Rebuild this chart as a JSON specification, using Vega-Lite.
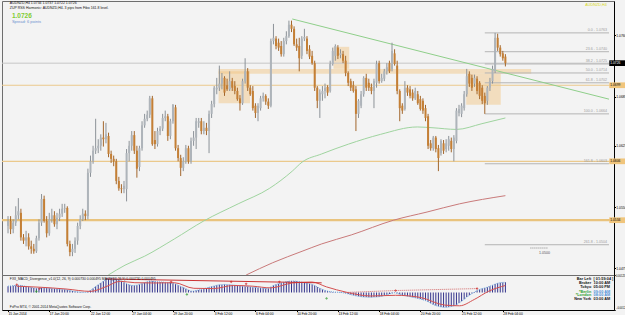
{
"$schema":"https://vega.github.io/schema/vega-lite/v6.json",
"background":"#f3f3f3",
"padding":0,
"spacing":0,
"bounds":"flush",
"config":{"view":{"stroke":"#6e6e6e","strokeWidth":1},"font":"Liberation Sans","axis":{"labelFont":"Liberation Sans","labelColor":"#000","tickColor":"#000","domainColor":"#000","grid":false,"title":null}},
"datasets":{
"bars":[
{"i":0,"o":1.0527,"h":1.0539,"l":1.0518,"c":1.0533,"m":0.00045},
{"i":1,"o":1.0533,"h":1.0539,"l":1.0517,"c":1.0523,"m":0.00047},
{"i":2,"o":1.0523,"h":1.0535,"l":1.0518,"c":1.0531,"m":0.00048},
{"i":3,"o":1.0531,"h":1.0551,"l":1.0527,"c":1.0540,"m":0.0005},
{"i":4,"o":1.0540,"h":1.0561,"l":1.0535,"c":1.0545,"m":0.00052},
{"i":5,"o":1.0543,"h":1.0548,"l":1.0509,"c":1.0513,"m":0.0005},
{"i":6,"o":1.0513,"h":1.0517,"l":1.0505,"c":1.0509,"m":0.00047},
{"i":7,"o":1.0509,"h":1.0521,"l":1.0502,"c":1.0513,"m":0.00044},
{"i":8,"o":1.0513,"h":1.0518,"l":1.0498,"c":1.0502,"m":0.0004},
{"i":9,"o":1.0502,"h":1.0509,"l":1.0493,"c":1.0499,"m":0.00036},
{"i":10,"o":1.0499,"h":1.0505,"l":1.0493,"c":1.0496,"m":0.00032},
{"i":11,"o":1.0496,"h":1.0515,"l":1.0494,"c":1.0512,"m":0.0003},
{"i":12,"o":1.0512,"h":1.0535,"l":1.0509,"c":1.0531,"m":0.0003},
{"i":13,"o":1.0531,"h":1.0566,"l":1.0527,"c":1.0560,"m":0.00033},
{"i":14,"o":1.0560,"h":1.0564,"l":1.0531,"c":1.0533,"m":0.00033},
{"i":15,"o":1.0533,"h":1.0539,"l":1.0513,"c":1.0518,"m":0.00032},
{"i":16,"o":1.0518,"h":1.0543,"l":1.0515,"c":1.0535,"m":0.0003},
{"i":17,"o":1.0535,"h":1.0548,"l":1.0531,"c":1.0540,"m":0.00028},
{"i":18,"o":1.0540,"h":1.0545,"l":1.0526,"c":1.0529,"m":0.00027},
{"i":19,"o":1.0529,"h":1.0543,"l":1.0523,"c":1.0537,"m":0.00025},
{"i":20,"o":1.0537,"h":1.0548,"l":1.0533,"c":1.0542,"m":0.00024},
{"i":21,"o":1.0542,"h":1.0554,"l":1.0538,"c":1.0548,"m":0.00022},
{"i":22,"o":1.0548,"h":1.0554,"l":1.0543,"c":1.0549,"m":0.00021},
{"i":23,"o":1.0549,"h":1.0551,"l":1.0502,"c":1.0505,"m":0.00018},
{"i":24,"o":1.0505,"h":1.0509,"l":1.0490,"c":1.0495,"m":0.00014},
{"i":25,"o":1.0495,"h":1.0505,"l":1.0490,"c":1.0499,"m":0.0001},
{"i":26,"o":1.0499,"h":1.0513,"l":1.0494,"c":1.0509,"m":0.00007},
{"i":27,"o":1.0509,"h":1.0531,"l":1.0504,"c":1.0527,"m":0.00005},
{"i":28,"o":1.0527,"h":1.0540,"l":1.0523,"c":1.0535,"m":0.00003},
{"i":29,"o":1.0535,"h":1.0548,"l":1.0533,"c":1.0542,"m":0.00002},
{"i":30,"o":1.0542,"h":1.0546,"l":1.0534,"c":1.0539,"m":0},
{"i":31,"o":1.0539,"h":1.0597,"l":1.0535,"c":1.0592,"m":0.00005},
{"i":32,"o":1.0592,"h":1.0613,"l":1.0587,"c":1.0606,"m":0.00015},
{"i":33,"o":1.0606,"h":1.0625,"l":1.0603,"c":1.0619,"m":0.00028},
{"i":34,"o":1.0619,"h":1.0658,"l":1.0615,"c":1.0622,"m":0.00042},
{"i":35,"o":1.0622,"h":1.0633,"l":1.0616,"c":1.0625,"m":0.00055},
{"i":36,"o":1.0625,"h":1.0639,"l":1.0619,"c":1.0635,"m":0.00068},
{"i":37,"o":1.0635,"h":1.0655,"l":1.0624,"c":1.0633,"m":0.0008},
{"i":38,"o":1.0633,"h":1.0653,"l":1.0628,"c":1.0639,"m":0.00092},
{"i":39,"o":1.0637,"h":1.0641,"l":1.0611,"c":1.0615,"m":0.001},
{"i":40,"o":1.0615,"h":1.0619,"l":1.0604,"c":1.0609,"m":0.00104},
{"i":41,"o":1.0609,"h":1.0613,"l":1.0600,"c":1.0606,"m":0.00102},
{"i":42,"o":1.0606,"h":1.0609,"l":1.0578,"c":1.0582,"m":0.00097},
{"i":43,"o":1.0582,"h":1.0587,"l":1.0570,"c":1.0573,"m":0.0009},
{"i":44,"o":1.0573,"h":1.0578,"l":1.0567,"c":1.0572,"m":0.00082},
{"i":45,"o":1.0572,"h":1.0582,"l":1.0567,"c":1.0576,"m":0.00072},
{"i":46,"o":1.0572,"h":1.0621,"l":1.0557,"c":1.0616,"m":0.00062},
{"i":47,"o":1.0616,"h":1.0631,"l":1.0606,"c":1.0625,"m":0.00055},
{"i":48,"o":1.0625,"h":1.0643,"l":1.0619,"c":1.0638,"m":0.0005},
{"i":49,"o":1.0638,"h":1.0643,"l":1.0615,"c":1.0619,"m":0.0005},
{"i":50,"o":1.0619,"h":1.0625,"l":1.0586,"c":1.0597,"m":0.00052},
{"i":51,"o":1.0599,"h":1.0625,"l":1.0594,"c":1.0622,"m":0.00058},
{"i":52,"o":1.0622,"h":1.0655,"l":1.0619,"c":1.0650,"m":0.00064},
{"i":53,"o":1.0650,"h":1.0664,"l":1.0647,"c":1.0658,"m":0.0007},
{"i":54,"o":1.0658,"h":1.0668,"l":1.0655,"c":1.0663,"m":0.00076},
{"i":55,"o":1.0663,"h":1.0686,"l":1.0659,"c":1.0683,"m":0.00082},
{"i":56,"o":1.0683,"h":1.0686,"l":1.0625,"c":1.0627,"m":0.0008},
{"i":57,"o":1.0632,"h":1.0643,"l":1.0621,"c":1.0627,"m":0.00078},
{"i":58,"o":1.0627,"h":1.0647,"l":1.0624,"c":1.0643,"m":0.00076},
{"i":59,"o":1.0643,"h":1.0649,"l":1.0638,"c":1.0646,"m":0.00075},
{"i":60,"o":1.0646,"h":1.0664,"l":1.0643,"c":1.0659,"m":0.00074},
{"i":61,"o":1.0659,"h":1.0668,"l":1.0655,"c":1.0661,"m":0.00072},
{"i":62,"o":1.0661,"h":1.0664,"l":1.0631,"c":1.0637,"m":0.0007},
{"i":63,"o":1.0637,"h":1.0658,"l":1.0633,"c":1.0655,"m":0.00068},
{"i":64,"o":1.0655,"h":1.0676,"l":1.0652,"c":1.0675,"m":0.00066},
{"i":65,"o":1.0672,"h":1.0675,"l":1.0619,"c":1.0622,"m":0.0006},
{"i":66,"o":1.0622,"h":1.0626,"l":1.0606,"c":1.0610,"m":0.00052},
{"i":67,"o":1.0610,"h":1.0614,"l":1.0588,"c":1.0598,"m":0.00043},
{"i":68,"o":1.0598,"h":1.0611,"l":1.0594,"c":1.0606,"m":0.00035},
{"i":69,"o":1.0606,"h":1.0626,"l":1.0603,"c":1.0622,"m":0.00027},
{"i":70,"o":1.0622,"h":1.0625,"l":1.0603,"c":1.0606,"m":0.00018},
{"i":71,"o":1.0606,"h":1.0635,"l":1.0603,"c":1.0631,"m":0.0001},
{"i":72,"o":1.0631,"h":1.0643,"l":1.0625,"c":1.0635,"m":0.0001},
{"i":73,"o":1.0635,"h":1.0659,"l":1.0621,"c":1.0655,"m":0.00014},
{"i":74,"o":1.0653,"h":1.0659,"l":1.0647,"c":1.0655,"m":0.00018},
{"i":75,"o":1.0655,"h":1.0659,"l":1.0639,"c":1.0643,"m":0.00022},
{"i":76,"o":1.0643,"h":1.0655,"l":1.0639,"c":1.0647,"m":0.00027},
{"i":77,"o":1.0647,"h":1.0653,"l":1.0638,"c":1.0643,"m":0.00032},
{"i":78,"o":1.0643,"h":1.0668,"l":1.0616,"c":1.0664,"m":0.00037},
{"i":79,"o":1.0664,"h":1.0680,"l":1.0659,"c":1.0676,"m":0.00042},
{"i":80,"o":1.0676,"h":1.0698,"l":1.0672,"c":1.0696,"m":0.00047},
{"i":81,"o":1.0694,"h":1.0708,"l":1.0688,"c":1.0696,"m":0.00052},
{"i":82,"o":1.0696,"h":1.0723,"l":1.0692,"c":1.0701,"m":0.00055},
{"i":83,"o":1.0701,"h":1.0714,"l":1.0694,"c":1.0708,"m":0.00056},
{"i":84,"o":1.0708,"h":1.0710,"l":1.0686,"c":1.0690,"m":0.00058},
{"i":85,"o":1.0699,"h":1.0707,"l":1.0692,"c":1.0694,"m":0.00056},
{"i":86,"o":1.0694,"h":1.0716,"l":1.0692,"c":1.0704,"m":0.00055},
{"i":87,"o":1.0704,"h":1.0708,"l":1.0692,"c":1.0696,"m":0.00054},
{"i":88,"o":1.0698,"h":1.0704,"l":1.0688,"c":1.0692,"m":0.00052},
{"i":89,"o":1.0692,"h":1.0696,"l":1.0680,"c":1.0682,"m":0.0005},
{"i":90,"o":1.0683,"h":1.0687,"l":1.0668,"c":1.0677,"m":0.00047},
{"i":91,"o":1.0677,"h":1.0707,"l":1.0675,"c":1.0704,"m":0.00045},
{"i":92,"o":1.0704,"h":1.0732,"l":1.0701,"c":1.0716,"m":0.00043},
{"i":93,"o":1.0716,"h":1.0720,"l":1.0692,"c":1.0696,"m":0.00042},
{"i":94,"o":1.0696,"h":1.0699,"l":1.0686,"c":1.0688,"m":0.0004},
{"i":95,"o":1.0692,"h":1.0698,"l":1.0668,"c":1.0671,"m":0.00038},
{"i":96,"o":1.0674,"h":1.0677,"l":1.0659,"c":1.0665,"m":0.00036},
{"i":97,"o":1.0665,"h":1.0677,"l":1.0655,"c":1.0674,"m":0.00034},
{"i":98,"o":1.0671,"h":1.0686,"l":1.0668,"c":1.0683,"m":0.00032},
{"i":99,"o":1.0683,"h":1.0690,"l":1.0679,"c":1.0686,"m":0.0003},
{"i":100,"o":1.0686,"h":1.0688,"l":1.0675,"c":1.0679,"m":0.00029},
{"i":101,"o":1.0679,"h":1.0683,"l":1.0670,"c":1.0674,"m":0.00029},
{"i":102,"o":1.0674,"h":1.0756,"l":1.0672,"c":1.0753,"m":0.0004},
{"i":103,"o":1.0753,"h":1.0774,"l":1.0749,"c":1.0757,"m":0.0005},
{"i":104,"o":1.0756,"h":1.0759,"l":1.0743,"c":1.0747,"m":0.00057},
{"i":105,"o":1.0751,"h":1.0756,"l":1.0741,"c":1.0745,"m":0.00063},
{"i":106,"o":1.0747,"h":1.0753,"l":1.0734,"c":1.0737,"m":0.00068},
{"i":107,"o":1.0737,"h":1.0757,"l":1.0734,"c":1.0753,"m":0.00073},
{"i":108,"o":1.0753,"h":1.0765,"l":1.0749,"c":1.0759,"m":0.00077},
{"i":109,"o":1.0759,"h":1.0778,"l":1.0757,"c":1.0773,"m":0.0008},
{"i":110,"o":1.0773,"h":1.0778,"l":1.0764,"c":1.0768,"m":0.00082},
{"i":111,"o":1.0768,"h":1.0771,"l":1.0747,"c":1.0749,"m":0.00082},
{"i":112,"o":1.0749,"h":1.0756,"l":1.0741,"c":1.0745,"m":0.0008},
{"i":113,"o":1.0747,"h":1.0757,"l":1.0716,"c":1.0732,"m":0.00078},
{"i":114,"o":1.0735,"h":1.0759,"l":1.0731,"c":1.0756,"m":0.00074},
{"i":115,"o":1.0756,"h":1.0768,"l":1.0753,"c":1.0758,"m":0.0007},
{"i":116,"o":1.0756,"h":1.0759,"l":1.0737,"c":1.0741,"m":0.00067},
{"i":117,"o":1.0743,"h":1.0748,"l":1.0731,"c":1.0734,"m":0.00063},
{"i":118,"o":1.0735,"h":1.0741,"l":1.0724,"c":1.0726,"m":0.00058},
{"i":119,"o":1.0726,"h":1.0729,"l":1.0692,"c":1.0696,"m":0.0005},
{"i":120,"o":1.0696,"h":1.0698,"l":1.0671,"c":1.0680,"m":0.0004},
{"i":121,"o":1.0680,"h":1.0694,"l":1.0659,"c":1.0690,"m":0.0003},
{"i":122,"o":1.0688,"h":1.0698,"l":1.0680,"c":1.0692,"m":0.00022},
{"i":123,"o":1.0692,"h":1.0701,"l":1.0683,"c":1.0696,"m":0.00015},
{"i":124,"o":1.0697,"h":1.0699,"l":1.0686,"c":1.0690,"m":0.0001},
{"i":125,"o":1.0692,"h":1.0729,"l":1.0690,"c":1.0725,"m":0.00006},
{"i":126,"o":1.0725,"h":1.0745,"l":1.0723,"c":1.0741,"m":0.00004},
{"i":127,"o":1.0735,"h":1.0749,"l":1.0729,"c":1.0747,"m":0.00003},
{"i":128,"o":1.0745,"h":1.0748,"l":1.0731,"c":1.0735,"m":0.00002},
{"i":129,"o":1.0736,"h":1.0743,"l":1.0732,"c":1.0738,"m":0.00001},
{"i":130,"o":1.0737,"h":1.0741,"l":1.0726,"c":1.0729,"m":-0.00002},
{"i":131,"o":1.0729,"h":1.0735,"l":1.0710,"c":1.0714,"m":-0.00005},
{"i":132,"o":1.0714,"h":1.0716,"l":1.0698,"c":1.0702,"m":-0.0001},
{"i":133,"o":1.0704,"h":1.0707,"l":1.0692,"c":1.0696,"m":-0.00015},
{"i":134,"o":1.0699,"h":1.0704,"l":1.0690,"c":1.0692,"m":-0.0002},
{"i":135,"o":1.0694,"h":1.0698,"l":1.0643,"c":1.0664,"m":-0.00024},
{"i":136,"o":1.0664,"h":1.0682,"l":1.0659,"c":1.0680,"m":-0.00027},
{"i":137,"o":1.0674,"h":1.0692,"l":1.0671,"c":1.0688,"m":-0.0003},
{"i":138,"o":1.0688,"h":1.0710,"l":1.0685,"c":1.0708,"m":-0.00032},
{"i":139,"o":1.0708,"h":1.0713,"l":1.0692,"c":1.0696,"m":-0.00033},
{"i":140,"o":1.0702,"h":1.0707,"l":1.0692,"c":1.0696,"m":-0.00034},
{"i":141,"o":1.0697,"h":1.0701,"l":1.0688,"c":1.0692,"m":-0.00034},
{"i":142,"o":1.0692,"h":1.0707,"l":1.0671,"c":1.0704,"m":-0.00033},
{"i":143,"o":1.0702,"h":1.0729,"l":1.0696,"c":1.0725,"m":-0.00032},
{"i":144,"o":1.0726,"h":1.0729,"l":1.0701,"c":1.0704,"m":-0.0003},
{"i":145,"o":1.0704,"h":1.0713,"l":1.0702,"c":1.0708,"m":-0.00027},
{"i":146,"o":1.0707,"h":1.0719,"l":1.0704,"c":1.0716,"m":-0.00022},
{"i":147,"o":1.0716,"h":1.0726,"l":1.0712,"c":1.0721,"m":-0.00016},
{"i":148,"o":1.0726,"h":1.0729,"l":1.0714,"c":1.0716,"m":-0.0001},
{"i":149,"o":1.0719,"h":1.0751,"l":1.0716,"c":1.0741,"m":-0.00005},
{"i":150,"o":1.0738,"h":1.0743,"l":1.0723,"c":1.0725,"m":-0.00002},
{"i":151,"o":1.0723,"h":1.0729,"l":1.0688,"c":1.0692,"m":-0.00006},
{"i":152,"o":1.0692,"h":1.0694,"l":1.0655,"c":1.0671,"m":-0.00012},
{"i":153,"o":1.0674,"h":1.0677,"l":1.0664,"c":1.0668,"m":-0.00018},
{"i":154,"o":1.0670,"h":1.0704,"l":1.0668,"c":1.0696,"m":-0.00022},
{"i":155,"o":1.0696,"h":1.0699,"l":1.0686,"c":1.0690,"m":-0.00026},
{"i":156,"o":1.0694,"h":1.0698,"l":1.0683,"c":1.0686,"m":-0.0003},
{"i":157,"o":1.0690,"h":1.0694,"l":1.0680,"c":1.0683,"m":-0.00034},
{"i":158,"o":1.0683,"h":1.0696,"l":1.0681,"c":1.0692,"m":-0.00038},
{"i":159,"o":1.0688,"h":1.0692,"l":1.0675,"c":1.0677,"m":-0.00042},
{"i":160,"o":1.0682,"h":1.0686,"l":1.0668,"c":1.0670,"m":-0.00047},
{"i":161,"o":1.0680,"h":1.0683,"l":1.0664,"c":1.0668,"m":-0.00052},
{"i":162,"o":1.0671,"h":1.0675,"l":1.0655,"c":1.0659,"m":-0.00058},
{"i":163,"o":1.0661,"h":1.0664,"l":1.0621,"c":1.0625,"m":-0.00066},
{"i":164,"o":1.0628,"h":1.0632,"l":1.0619,"c":1.0622,"m":-0.00076},
{"i":165,"o":1.0622,"h":1.0637,"l":1.0619,"c":1.0635,"m":-0.00086},
{"i":166,"o":1.0635,"h":1.0637,"l":1.0617,"c":1.0621,"m":-0.00093},
{"i":167,"o":1.0622,"h":1.0626,"l":1.0594,"c":1.0610,"m":-0.00099},
{"i":168,"o":1.0616,"h":1.0633,"l":1.0613,"c":1.0631,"m":-0.00103},
{"i":169,"o":1.0628,"h":1.0632,"l":1.0615,"c":1.0619,"m":-0.00105},
{"i":170,"o":1.0621,"h":1.0633,"l":1.0617,"c":1.0628,"m":-0.00106},
{"i":171,"o":1.0625,"h":1.0637,"l":1.0619,"c":1.0633,"m":-0.00104},
{"i":172,"o":1.0631,"h":1.0635,"l":1.0617,"c":1.0621,"m":-0.001},
{"i":173,"o":1.0621,"h":1.0638,"l":1.0606,"c":1.0635,"m":-0.00096},
{"i":174,"o":1.0631,"h":1.0671,"l":1.0628,"c":1.0668,"m":-0.00088},
{"i":175,"o":1.0665,"h":1.0675,"l":1.0661,"c":1.0670,"m":-0.00075},
{"i":176,"o":1.0664,"h":1.0677,"l":1.0660,"c":1.0674,"m":-0.00062},
{"i":177,"o":1.0671,"h":1.0692,"l":1.0668,"c":1.0688,"m":-0.00048},
{"i":178,"o":1.0688,"h":1.0719,"l":1.0685,"c":1.0710,"m":-0.00033},
{"i":179,"o":1.0713,"h":1.0716,"l":1.0697,"c":1.0701,"m":-0.0002},
{"i":180,"o":1.0708,"h":1.0712,"l":1.0692,"c":1.0696,"m":-0.00008},
{"i":181,"o":1.0701,"h":1.0712,"l":1.0697,"c":1.0708,"m":0.00003},
{"i":182,"o":1.0707,"h":1.0710,"l":1.0688,"c":1.0692,"m":0.00014},
{"i":183,"o":1.0702,"h":1.0704,"l":1.0682,"c":1.0686,"m":0.00022},
{"i":184,"o":1.0696,"h":1.0699,"l":1.0676,"c":1.0680,"m":0.00028},
{"i":185,"o":1.0686,"h":1.0690,"l":1.0664,"c":1.0677,"m":0.00033},
{"i":186,"o":1.0680,"h":1.0698,"l":1.0675,"c":1.0696,"m":0.00038},
{"i":187,"o":1.0696,"h":1.0708,"l":1.0692,"c":1.0704,"m":0.00045},
{"i":188,"o":1.0704,"h":1.0723,"l":1.0701,"c":1.0719,"m":0.00052},
{"i":189,"o":1.0716,"h":1.0763,"l":1.0714,"c":1.0757,"m":0.0006},
{"i":190,"o":1.0757,"h":1.0762,"l":1.0741,"c":1.0745,"m":0.00066},
{"i":191,"o":1.0745,"h":1.0748,"l":1.0734,"c":1.0737,"m":0.0007},
{"i":192,"o":1.0738,"h":1.0741,"l":1.0729,"c":1.0732,"m":0.00072},
{"i":193,"o":1.0734,"h":1.0737,"l":1.0722,"c":1.0726,"m":0.00073}
],
"zones":[
{"i":81.7,"i2":203,"p":1.0719,"p2":1.0713},
{"i":81.7,"i2":93.9,"p":1.0716,"p2":1.0677},
{"i":126.3,"i2":132.4,"p":1.0746,"p2":1.0719},
{"i":177.8,"i2":191.2,"p":1.0713,"p2":1.0675}
],
"hl":[
{"k":"sr","p":1.0699},{"k":"sr","p":1.0606},{"k":"sr2","p":1.0534},{"k":"bid","p":1.0726}
],
"fib":[
{"i":185,"i2":233.2,"p":1.0763,"t":"0.0 - 1.0763"},
{"i":185,"i2":233.2,"p":1.0740,"t":"23.6 - 1.0740"},
{"i":185,"i2":233.2,"p":1.0725,"t":"38.2 - 1.0725"},
{"i":185,"i2":233.2,"p":1.0714,"t":"50.0 - 1.0714"},
{"i":185,"i2":233.2,"p":1.0702,"t":"61.8 - 1.0702"},
{"i":185,"i2":233.2,"p":1.0664,"t":"100.0 - 1.0664"},
{"i":185,"i2":233.2,"p":1.0603,"t":"161.8 - 1.0603"},
{"i":185,"i2":233.2,"p":1.0504,"t":"261.8 - 1.0504"}
],
"lines":[
{"s":"tl","i":110.3,"p":1.0780},{"s":"tl","i":233.2,"p":1.0682},
{"s":"ma1","i":38.9,"p":1.0467},{"s":"ma1","i":45.4,"p":1.0479},{"s":"ma1","i":53.0,"p":1.0490},{"s":"ma1","i":64.5,"p":1.0511},{"s":"ma1","i":75.9,"p":1.0533},{"s":"ma1","i":89.3,"p":1.0554},{"s":"ma1","i":101.5,"p":1.0573},{"s":"ma1","i":110.3,"p":1.0594},{"s":"ma1","i":114.1,"p":1.0605},{"s":"ma1","i":121.7,"p":1.0615},{"s":"ma1","i":132.1,"p":1.0627},{"s":"ma1","i":144.6,"p":1.0639},{"s":"ma1","i":158.8,"p":1.0648},{"s":"ma1","i":164.9,"p":1.0647},{"s":"ma1","i":174.0,"p":1.0645},{"s":"ma1","i":183.9,"p":1.0652},{"s":"ma1","i":193,"p":1.0659},
{"s":"ma2","i":92.4,"p":1.0467},{"s":"ma2","i":102.7,"p":1.0482},{"s":"ma2","i":114.1,"p":1.0496},{"s":"ma2","i":121.7,"p":1.0505},{"s":"ma2","i":133.2,"p":1.0516},{"s":"ma2","i":149.6,"p":1.0534},{"s":"ma2","i":162.6,"p":1.0544},{"s":"ma2","i":175.2,"p":1.0554},{"s":"ma2","i":193,"p":1.0564},
{"s":"lvl","i":202.7,"p":1.0500},{"s":"lvl","i":209.5,"p":1.0500}
],
"tags":[
{"k":"cur","i":233.3,"i2":241,"p":1.0726,"q":1.07295,"r":1.07225,"t":"1.0726"},
{"k":"sr","i":233.3,"i2":241,"p":1.0699,"q":1.07025,"r":1.06955,"t":"1.0699"},
{"k":"sr","i":233.3,"i2":241,"p":1.0606,"q":1.06095,"r":1.06025,"t":"1.0606"},
{"k":"sr","i":233.3,"i2":241,"p":1.0534,"q":1.05375,"r":1.05305,"t":"1.0534"}
],
"sig":[
{"i":3.4,"v":0.00045},{"i":12.2,"v":0.00038},{"i":22.5,"v":0.00025},{"i":32,"v":0.00008},{"i":37.8,"v":0.0004},{"i":43.5,"v":0.0008},{"i":49.2,"v":0.0007},{"i":56.9,"v":0.00068},{"i":64.5,"v":0.0007},{"i":72.1,"v":0.0003},{"i":79.8,"v":0.00028},{"i":87.4,"v":0.0005},{"i":95,"v":0.00045},{"i":101.9,"v":0.00033},{"i":110.3,"v":0.00068},{"i":117.9,"v":0.00075},{"i":123.6,"v":0.0004},{"i":131.3,"v":0.00002},{"i":140.8,"v":-0.00025},{"i":150.4,"v":-0.0002},{"i":159.9,"v":-0.00035},{"i":169.5,"v":-0.0009},{"i":175.2,"v":-0.00095},{"i":180.9,"v":-0.0005},{"i":186.6,"v":0.0001},{"i":193,"v":0.0005}
],
"dv":[
{"s":"a","i":37.8,"v":0.00097},{"s":"a","i":121.7,"v":0.00069},
{"s":"b","i":130.5,"v":0},{"s":"b","i":150.4,"v":0.00014},{"s":"b","i":182,"v":0.00028}
],
"mk":[
{"k":"r","i":3.4,"v":0.00056},{"k":"r","i":12.2,"v":0.00028},{"k":"r","i":63.3,"v":0.00076},{"k":"r","i":86.6,"v":0.00076},{"k":"r","i":92.4,"v":0.00062},{"k":"r","i":105.3,"v":0.00076},{"k":"r","i":150.4,"v":0.00014},{"k":"r","i":182,"v":0.00028},
{"k":"g","i":11,"v":0.00007},{"k":"g","i":69.4,"v":-0.00014},{"k":"g","i":123.6,"v":-0.00042}
],
"info":[
{"k":"n","i":226.3,"v":0.00097,"t":"Bar Left"},{"k":"t","i":227.2,"v":0.00097,"t":"[ 01:59:04 ]"},
{"k":"n","i":226.3,"v":0.00069,"t":"Broker"},{"k":"t","i":227.2,"v":0.00069,"t":"10:00 AM"},
{"k":"n","i":226.3,"v":0.00042,"t":"Tokyo"},{"k":"t","i":227.2,"v":0.00042,"t":"05:00 PM"},
{"k":"ng","i":226.3,"v":0.00007,"t":"*Berlin"},{"k":"tb","i":227.2,"v":0.00007,"t":"09:00 AM"},
{"k":"ng","i":226.3,"v":-0.00021,"t":"*London"},{"k":"tb","i":227.2,"v":-0.00021,"t":"08:00 AM"},
{"k":"n","i":226.3,"v":-0.00049,"t":"New York"},{"k":"t","i":227.2,"v":-0.00049,"t":"03:00 AM"}
],
"texts":[
{"k":"hd","i":0.7,"p":1.0799,"t":"AUDNZD,H4  1.0734 1.0737 1.0722 1.0726"},
{"k":"hd","i":0.7,"p":1.0793,"t":"ZUP RSS Harmonic: AUDNZD,H4. 3 pips from Fibo 161.8 level."},
{"k":"big","i":1.5,"p":1.0784,"t":"1.0726"},
{"k":"sp","i":1.5,"p":1.0776,"t":"Spread: 6 points"},
{"k":"lv","i":206,"p":1.0494,"t":"1.0500"},
{"k":"yel","i":232.4,"p":1.0797,"t":"AUDNZD,H4"}
],
"itexts":[
{"i":0.7,"v":0.00097,"t":"FXII_MACD_Divergence_v1.0(12, 26, 9) 0.000730 0.000495 MACD(12,26,9) 0.000730 0.000495"},
{"i":0.7,"v":-0.00104,"t":"FxPro MT4, © 2001-2014 MetaQuotes Software Corp."}
]
},
"vconcat":[
{
"width":612,"height":274,
"layer":[
{"data":{"name":"zones"},"mark":{"type":"rect","color":"#f2c47e","opacity":0.45},
 "encoding":{"x":{"field":"i","type":"quantitative","scale":{"domain":[-0.4,233.2],"nice":false,"zero":false},"axis":null},"x2":{"field":"i2"},
 "y":{"field":"p","type":"quantitative","scale":{"domain":[1.0467,1.0802],"nice":false,"zero":false}},"y2":{"field":"p2"}}},
{"data":{"name":"hl"},"transform":[{"filter":"datum.k=='bid'"}],"mark":{"type":"rule","color":"#c6c6c6","strokeWidth":1},
 "encoding":{"y":{"field":"p","type":"quantitative","scale":{"domain":[1.0467,1.0802],"nice":false,"zero":false}}}},
{"data":{"name":"hl"},"transform":[{"filter":"datum.k=='sr'"}],"mark":{"type":"rule","color":"#ebc98c","strokeWidth":1.2},
 "encoding":{"y":{"field":"p","type":"quantitative","scale":{"domain":[1.0467,1.0802],"nice":false,"zero":false}}}},
{"data":{"name":"hl"},"transform":[{"filter":"datum.k=='sr2'"}],"mark":{"type":"rule","color":"#e9c37d","strokeWidth":2.2},
 "encoding":{"y":{"field":"p","type":"quantitative","scale":{"domain":[1.0467,1.0802],"nice":false,"zero":false}}}},
{"data":{"name":"fib"},"mark":{"type":"rule","color":"#b4b4b4","strokeWidth":1},
 "encoding":{"x":{"field":"i","type":"quantitative","scale":{"domain":[-0.4,233.2],"nice":false,"zero":false},"axis":null},"x2":{"field":"i2"},
 "y":{"field":"p","type":"quantitative","scale":{"domain":[1.0467,1.0802],"nice":false,"zero":false}}}},
{"data":{"name":"fib"},"mark":{"type":"text","align":"right","baseline":"bottom","dy":-0.5,"dx":-2,"fontSize":3.6,"color":"#9c9c9c"},
 "encoding":{"x":{"field":"i2","type":"quantitative","scale":{"domain":[-0.4,233.2],"nice":false,"zero":false},"axis":null},
 "y":{"field":"p","type":"quantitative","scale":{"domain":[1.0467,1.0802],"nice":false,"zero":false}},"text":{"field":"t","type":"nominal"}}},
{"data":{"name":"lines"},"transform":[{"filter":"datum.s=='lvl'"}],"mark":{"type":"line","color":"#8a8a8a","strokeWidth":1,"strokeDash":[1,1]},
 "encoding":{"x":{"field":"i","type":"quantitative","scale":{"domain":[-0.4,233.2],"nice":false,"zero":false},"axis":null},
 "y":{"field":"p","type":"quantitative","scale":{"domain":[1.0467,1.0802],"nice":false,"zero":false}}}},
{"data":{"name":"lines"},"transform":[{"filter":"datum.s=='tl'"}],"mark":{"type":"line","color":"#8fcf8a","strokeWidth":1,"clip":true},
 "encoding":{"x":{"field":"i","type":"quantitative","scale":{"domain":[-0.4,233.2],"nice":false,"zero":false},"axis":null},
 "y":{"field":"p","type":"quantitative","scale":{"domain":[1.0467,1.0802],"nice":false,"zero":false}}}},
{"data":{"name":"lines"},"transform":[{"filter":"datum.s=='ma1'"}],"mark":{"type":"line","color":"#9fd49f","strokeWidth":1,"interpolate":"monotone","clip":true},
 "encoding":{"x":{"field":"i","type":"quantitative","scale":{"domain":[-0.4,233.2],"nice":false,"zero":false},"axis":null},
 "y":{"field":"p","type":"quantitative","scale":{"domain":[1.0467,1.0802],"nice":false,"zero":false}}}},
{"data":{"name":"lines"},"transform":[{"filter":"datum.s=='ma2'"}],"mark":{"type":"line","color":"#c97a7a","strokeWidth":1,"interpolate":"monotone","clip":true},
 "encoding":{"x":{"field":"i","type":"quantitative","scale":{"domain":[-0.4,233.2],"nice":false,"zero":false},"axis":null},
 "y":{"field":"p","type":"quantitative","scale":{"domain":[1.0467,1.0802],"nice":false,"zero":false}}}},
{"data":{"name":"bars"},"mark":{"type":"rule","strokeWidth":1},
 "encoding":{"x":{"field":"i","type":"quantitative","scale":{"domain":[-0.4,233.2],"nice":false,"zero":false},"axis":null},
 "y":{"field":"l","type":"quantitative","scale":{"domain":[1.0467,1.0802],"nice":false,"zero":false}},"y2":{"field":"h"},
 "color":{"condition":{"test":"datum.c>=datum.o","value":"#8c9298"},"value":"#a2662c"}}},
{"data":{"name":"bars"},"mark":{"type":"bar","size":2},
 "encoding":{"x":{"field":"i","type":"quantitative","scale":{"domain":[-0.4,233.2],"nice":false,"zero":false},"axis":null},
 "y":{"field":"o","type":"quantitative","scale":{"domain":[1.0467,1.0802],"nice":false,"zero":false},
  "axis":{"orient":"right","values":[1.0475,1.049,1.0505,1.052,1.055,1.0565,1.058,1.0595,1.0625,1.064,1.0655,1.067,1.0685,1.0715,1.073,1.0745,1.076,1.0775,1.079],"format":".4f","tickSize":1.5,"labelPadding":0.3,"labelFontSize":3.3,"title":null,"labelOverlap":false,"labelBound":false,"labelFlush":false,"grid":false}},
 "y2":{"field":"c"},
 "color":{"condition":{"test":"datum.c>=datum.o","value":"#aeb4ba"},"value":"#c47f35"}}},
{"data":{"name":"tags"},"mark":{"type":"rect","clip":false},
 "encoding":{"x":{"field":"i","type":"quantitative","scale":{"domain":[-0.4,233.2],"nice":false,"zero":false},"axis":null},"x2":{"field":"i2"},
 "y":{"field":"q","type":"quantitative","scale":{"domain":[1.0467,1.0802],"nice":false,"zero":false}},"y2":{"field":"r"},
 "color":{"condition":{"test":"datum.k=='cur'","value":"#000000"},"value":"#f0c57c"}}},
{"data":{"name":"tags"},"mark":{"type":"text","align":"left","baseline":"middle","fontSize":3.3,"clip":false,"dx":1},
 "encoding":{"x":{"field":"i","type":"quantitative","scale":{"domain":[-0.4,233.2],"nice":false,"zero":false},"axis":null},
 "y":{"field":"p","type":"quantitative","scale":{"domain":[1.0467,1.0802],"nice":false,"zero":false}},"text":{"field":"t","type":"nominal"},
 "color":{"condition":{"test":"datum.k=='cur'","value":"#ffffff"},"value":"#000000"}}},
{"data":{"name":"texts"},"transform":[{"filter":"datum.k=='hd'"}],
 "mark":{"type":"text","align":"left","baseline":"middle","fontSize":3.5,"color":"#111111"},
 "encoding":{"x":{"field":"i","type":"quantitative","scale":{"domain":[-0.4,233.2],"nice":false,"zero":false},"axis":null},
 "y":{"field":"p","type":"quantitative","scale":{"domain":[1.0467,1.0802],"nice":false,"zero":false}},"text":{"field":"t","type":"nominal"}}},
{"data":{"name":"texts"},"transform":[{"filter":"datum.k=='big'"}],
 "mark":{"type":"text","align":"left","baseline":"middle","fontSize":6.5,"fontWeight":"bold","color":"#7fcc33"},
 "encoding":{"x":{"field":"i","type":"quantitative","scale":{"domain":[-0.4,233.2],"nice":false,"zero":false},"axis":null},
 "y":{"field":"p","type":"quantitative","scale":{"domain":[1.0467,1.0802],"nice":false,"zero":false}},"text":{"field":"t","type":"nominal"}}},
{"data":{"name":"texts"},"transform":[{"filter":"datum.k=='sp'"}],
 "mark":{"type":"text","align":"left","baseline":"middle","fontSize":4,"color":"#6d8fcf"},
 "encoding":{"x":{"field":"i","type":"quantitative","scale":{"domain":[-0.4,233.2],"nice":false,"zero":false},"axis":null},
 "y":{"field":"p","type":"quantitative","scale":{"domain":[1.0467,1.0802],"nice":false,"zero":false}},"text":{"field":"t","type":"nominal"}}},
{"data":{"name":"texts"},"transform":[{"filter":"datum.k=='lv'"}],
 "mark":{"type":"text","align":"left","baseline":"middle","fontSize":3.6,"color":"#555555"},
 "encoding":{"x":{"field":"i","type":"quantitative","scale":{"domain":[-0.4,233.2],"nice":false,"zero":false},"axis":null},
 "y":{"field":"p","type":"quantitative","scale":{"domain":[1.0467,1.0802],"nice":false,"zero":false}},"text":{"field":"t","type":"nominal"}}},
{"data":{"name":"texts"},"transform":[{"filter":"datum.k=='yel'"}],
 "mark":{"type":"text","align":"right","baseline":"middle","fontSize":3.8,"color":"#d8d820"},
 "encoding":{"x":{"field":"i","type":"quantitative","scale":{"domain":[-0.4,233.2],"nice":false,"zero":false},"axis":null},
 "y":{"field":"p","type":"quantitative","scale":{"domain":[1.0467,1.0802],"nice":false,"zero":false}},"text":{"field":"t","type":"nominal"}}}
]
},
{
"width":612,"height":35,
"layer":[
{"data":{"name":"bars"},"mark":{"type":"bar","size":1,"color":"#34348c"},
 "encoding":{"x":{"field":"i","type":"quantitative","scale":{"domain":[-0.4,233.2],"nice":false,"zero":false},
  "axis":{"orient":"bottom","values":[0,8,16,24,32,40,48,56,64,72,80,88,96,104,112,120,128,136,144,152,160,168,176,184,192],
  "labelExpr":"['15 Jan 2014','16 Jan 12:00','17 Jan 20:00','21 Jan 04:00','22 Jan 12:00','23 Jan 20:00','27 Jan 04:00','28 Jan 12:00','29 Jan 20:00','31 Jan 04:00','3 Feb 12:00','4 Feb 20:00','6 Feb 04:00','7 Feb 12:00','10 Feb 20:00','12 Feb 04:00','13 Feb 12:00','14 Feb 20:00','18 Feb 04:00','19 Feb 12:00','20 Feb 20:00','24 Feb 04:00','25 Feb 12:00','26 Feb 20:00','28 Feb 04:00'][round(datum.value/8)]",
  "labelAlign":"left","labelBaseline":"top","labelPadding":0,"tickSize":1.5,"labelFontSize":3.3,"labelFlush":false,"labelOverlap":false,"labelBound":false,"title":null,"grid":false}},
 "y":{"field":"m","type":"quantitative","scale":{"domain":[-0.00125,0.00125],"nice":false,"zero":false},
  "axis":{"orient":"right","values":[-0.00125,0,0.00125],"labelExpr":"datum.value==0?'0.00':format(datum.value,'.5f')","tickSize":1.2,"labelPadding":0.2,"labelFontSize":2.6,"labelFlush":true,"title":null,"grid":false}}}},
{"data":{"name":"bars"},"mark":{"type":"line","color":"#6fa8e0","strokeWidth":1,"strokeDash":[1,1]},
 "encoding":{"x":{"field":"i","type":"quantitative","scale":{"domain":[-0.4,233.2],"nice":false,"zero":false}},
 "y":{"field":"m","type":"quantitative","scale":{"domain":[-0.00125,0.00125],"nice":false,"zero":false}}}},
{"data":{"name":"sig"},"mark":{"type":"line","color":"#d45050","strokeWidth":1,"interpolate":"monotone"},
 "encoding":{"x":{"field":"i","type":"quantitative","scale":{"domain":[-0.4,233.2],"nice":false,"zero":false}},
 "y":{"field":"v","type":"quantitative","scale":{"domain":[-0.00125,0.00125],"nice":false,"zero":false}}}},
{"data":{"name":"dv"},"transform":[{"filter":"datum.s=='a'"}],"mark":{"type":"line","color":"#cc3333","strokeWidth":1},
 "encoding":{"x":{"field":"i","type":"quantitative","scale":{"domain":[-0.4,233.2],"nice":false,"zero":false}},
 "y":{"field":"v","type":"quantitative","scale":{"domain":[-0.00125,0.00125],"nice":false,"zero":false}}}},
{"data":{"name":"dv"},"transform":[{"filter":"datum.s=='b'"}],"mark":{"type":"line","color":"#d46a6a","strokeWidth":1,"strokeDash":[1,1]},
 "encoding":{"x":{"field":"i","type":"quantitative","scale":{"domain":[-0.4,233.2],"nice":false,"zero":false}},
 "y":{"field":"v","type":"quantitative","scale":{"domain":[-0.00125,0.00125],"nice":false,"zero":false}}}},
{"data":{"name":"mk"},"mark":{"type":"point","shape":"diamond","filled":true,"size":8},
 "encoding":{"x":{"field":"i","type":"quantitative","scale":{"domain":[-0.4,233.2],"nice":false,"zero":false}},
 "y":{"field":"v","type":"quantitative","scale":{"domain":[-0.00125,0.00125],"nice":false,"zero":false}},
 "color":{"condition":{"test":"datum.k=='r'","value":"#cc2222"},"value":"#2a9a2a"}}},
{"data":{"name":"itexts"},
 "mark":{"type":"text","align":"left","baseline":"middle","fontSize":3.4,"color":"#111111"},
 "encoding":{"x":{"field":"i","type":"quantitative","scale":{"domain":[-0.4,233.2],"nice":false,"zero":false}},
 "y":{"field":"v","type":"quantitative","scale":{"domain":[-0.00125,0.00125],"nice":false,"zero":false}},"text":{"field":"t","type":"nominal"}}},
{"data":{"name":"info"},"transform":[{"filter":"datum.k=='n'||datum.k=='ng'"}],
 "mark":{"type":"text","align":"right","baseline":"middle","fontSize":3.8,"fontWeight":"bold","clip":false},
 "encoding":{"x":{"field":"i","type":"quantitative","scale":{"domain":[-0.4,233.2],"nice":false,"zero":false}},
 "y":{"field":"v","type":"quantitative","scale":{"domain":[-0.00125,0.00125],"nice":false,"zero":false}},"text":{"field":"t","type":"nominal"},
 "color":{"condition":{"test":"datum.k=='ng'","value":"#2fa02f"},"value":"#111111"}}},
{"data":{"name":"info"},"transform":[{"filter":"datum.k=='t'||datum.k=='tb'"}],
 "mark":{"type":"text","align":"left","baseline":"middle","fontSize":3.8,"fontWeight":"bold","clip":false},
 "encoding":{"x":{"field":"i","type":"quantitative","scale":{"domain":[-0.4,233.2],"nice":false,"zero":false}},
 "y":{"field":"v","type":"quantitative","scale":{"domain":[-0.00125,0.00125],"nice":false,"zero":false}},"text":{"field":"t","type":"nominal"},
 "color":{"condition":{"test":"datum.k=='tb'","value":"#4d90d8"},"value":"#111111"}}}
]
}
]
}
